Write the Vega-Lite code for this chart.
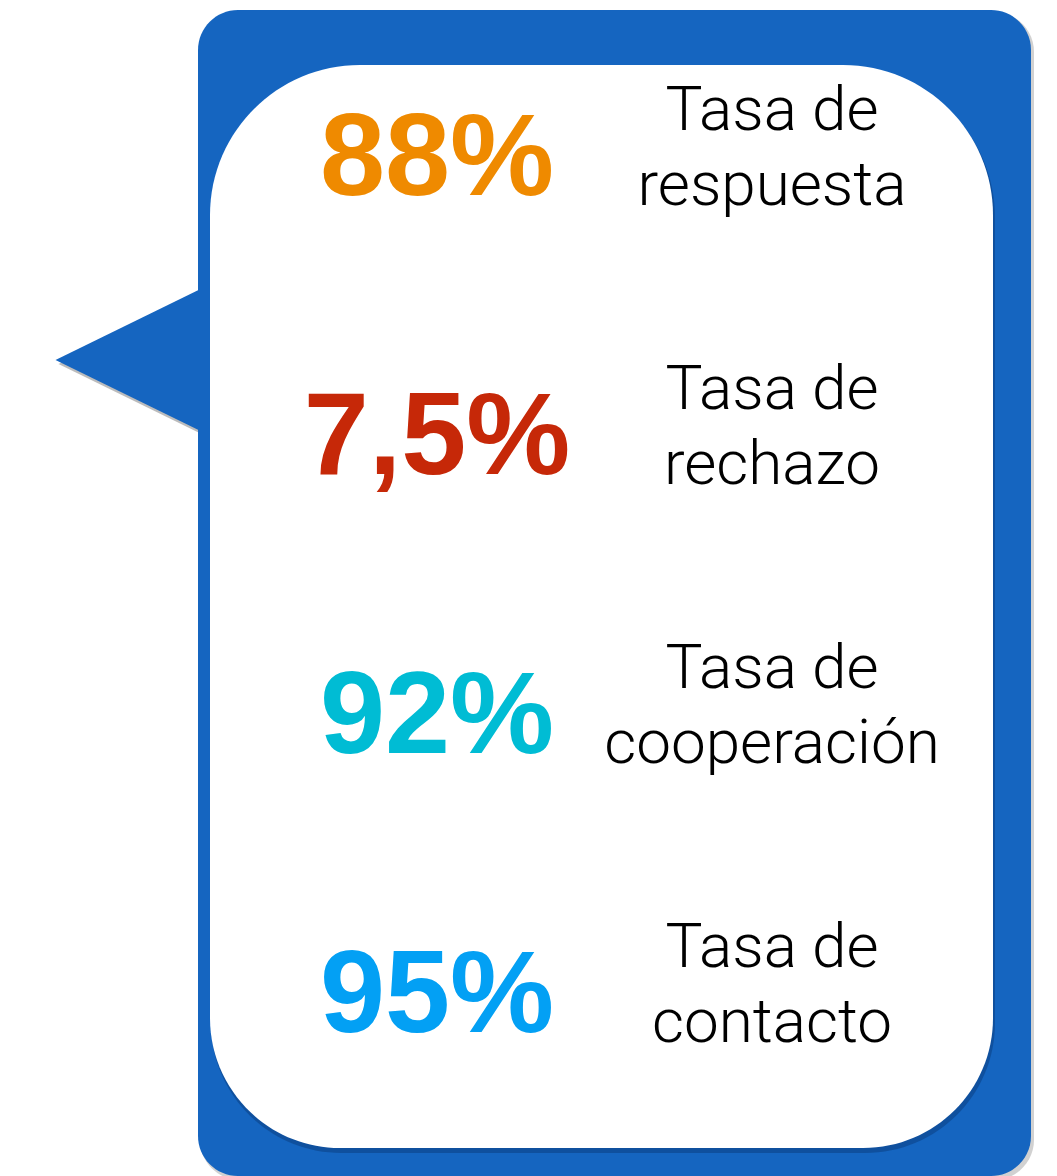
{
  "$schema": "https://vega.github.io/schema/vega-lite/v6.json",
  "width": 1057,
  "height": 1176,
  "padding": 0,
  "autosize": {"type": "none"},
  "background": "white",
  "config": {"view": {"stroke": null}},
  "datasets": {
    "rates": [
      {"row": 1, "metric": "respuesta", "rate": "88%", "label": ["Tasa de", "respuesta"]},
      {"row": 2, "metric": "rechazo", "rate": "7,5%", "label": ["Tasa de", "rechazo"]},
      {"row": 3, "metric": "cooperación", "rate": "92%", "label": ["Tasa de", "cooperación"]},
      {"row": 4, "metric": "contacto", "rate": "95%", "label": ["Tasa de", "contacto"]}
    ],
    "one": [{}]
  },
  "layer": [
    {
      "data": {"name": "one"},
      "mark": {"type": "point", "shape": "M-1,0L1,-0.98L1,0.98Z", "size": 20449, "filled": true, "color": "#7a7a7a", "opacity": 0.5, "strokeWidth": 0},
      "encoding": {
        "x": {"datum": 130, "type": "quantitative", "scale": {"domain": [0, 1057]}, "axis": null},
        "y": {"datum": 364, "type": "quantitative", "scale": {"domain": [0, 1176], "reverse": true}, "axis": null}
      }
    },
    {
      "data": {"name": "one"},
      "mark": {"type": "point", "shape": "M-1,0L1,-0.98L1,0.98Z", "size": 20449, "filled": true, "color": "#1565C0", "opacity": 1, "strokeWidth": 0},
      "encoding": {
        "x": {"datum": 127, "type": "quantitative", "scale": {"domain": [0, 1057]}, "axis": null},
        "y": {"datum": 360, "type": "quantitative", "scale": {"domain": [0, 1176], "reverse": true}, "axis": null}
      }
    },
    {
      "data": {"name": "one"},
      "mark": {"type": "rect", "color": "#9a9a9a", "opacity": 0.45, "cornerRadius": 40},
      "encoding": {
        "x": {"datum": 200, "type": "quantitative", "scale": {"domain": [0, 1057]}, "axis": null},
        "x2": {"datum": 1034},
        "y": {"datum": 12, "type": "quantitative", "scale": {"domain": [0, 1176], "reverse": true}, "axis": null},
        "y2": {"datum": 1180}
      }
    },
    {
      "data": {"name": "one"},
      "mark": {"type": "rect", "color": "#1565C0", "cornerRadius": 40},
      "encoding": {
        "x": {"datum": 198, "type": "quantitative", "scale": {"domain": [0, 1057]}, "axis": null},
        "x2": {"datum": 1031},
        "y": {"datum": 10, "type": "quantitative", "scale": {"domain": [0, 1176], "reverse": true}, "axis": null},
        "y2": {"datum": 1176}
      }
    },
    {
      "data": {"name": "one"},
      "mark": {"type": "rect", "color": "#0b3f82", "opacity": 0.55, "cornerRadiusTopLeft": 150, "cornerRadiusTopRight": 150, "cornerRadiusBottomLeft": 130, "cornerRadiusBottomRight": 130},
      "encoding": {
        "x": {"datum": 211, "type": "quantitative", "scale": {"domain": [0, 1057]}, "axis": null},
        "x2": {"datum": 995},
        "y": {"datum": 68, "type": "quantitative", "scale": {"domain": [0, 1176], "reverse": true}, "axis": null},
        "y2": {"datum": 1153}
      }
    },
    {
      "data": {"name": "one"},
      "mark": {"type": "rect", "color": "#ffffff", "cornerRadiusTopLeft": 150, "cornerRadiusTopRight": 150, "cornerRadiusBottomLeft": 130, "cornerRadiusBottomRight": 130},
      "encoding": {
        "x": {"datum": 210, "type": "quantitative", "scale": {"domain": [0, 1057]}, "axis": null},
        "x2": {"datum": 993},
        "y": {"datum": 65, "type": "quantitative", "scale": {"domain": [0, 1176], "reverse": true}, "axis": null},
        "y2": {"datum": 1148}
      }
    },
    {
      "data": {"name": "rates"},
      "mark": {"type": "text", "font": "Liberation Sans", "fontWeight": "bold", "fontSize": 117, "align": "center", "baseline": "alphabetic"},
      "encoding": {
        "x": {"datum": 437, "type": "quantitative", "scale": {"domain": [0, 1057]}, "axis": null},
        "y": {"field": "row", "type": "quantitative", "scale": {"domain": [0.301, 4.516], "reverse": true}, "axis": null},
        "text": {"field": "rate"},
        "color": {"field": "metric", "type": "nominal", "scale": {"domain": ["respuesta", "rechazo", "cooperación", "contacto"], "range": ["#EF8A00", "#C62808", "#00BCD4", "#03A0F4"]}, "legend": null}
      }
    },
    {
      "data": {"name": "rates"},
      "mark": {"type": "text", "font": "Roboto", "fontWeight": 300, "fontSize": 62, "align": "center", "baseline": "alphabetic", "lineHeight": 75, "dy": -65, "color": "#000000"},
      "encoding": {
        "x": {"datum": 772, "type": "quantitative", "scale": {"domain": [0, 1057]}, "axis": null},
        "y": {"field": "row", "type": "quantitative", "scale": {"domain": [0.301, 4.516], "reverse": true}, "axis": null},
        "text": {"field": "label"}
      }
    }
  ],
  "resolve": {"scale": {"y": "independent", "color": "independent"}}
}
